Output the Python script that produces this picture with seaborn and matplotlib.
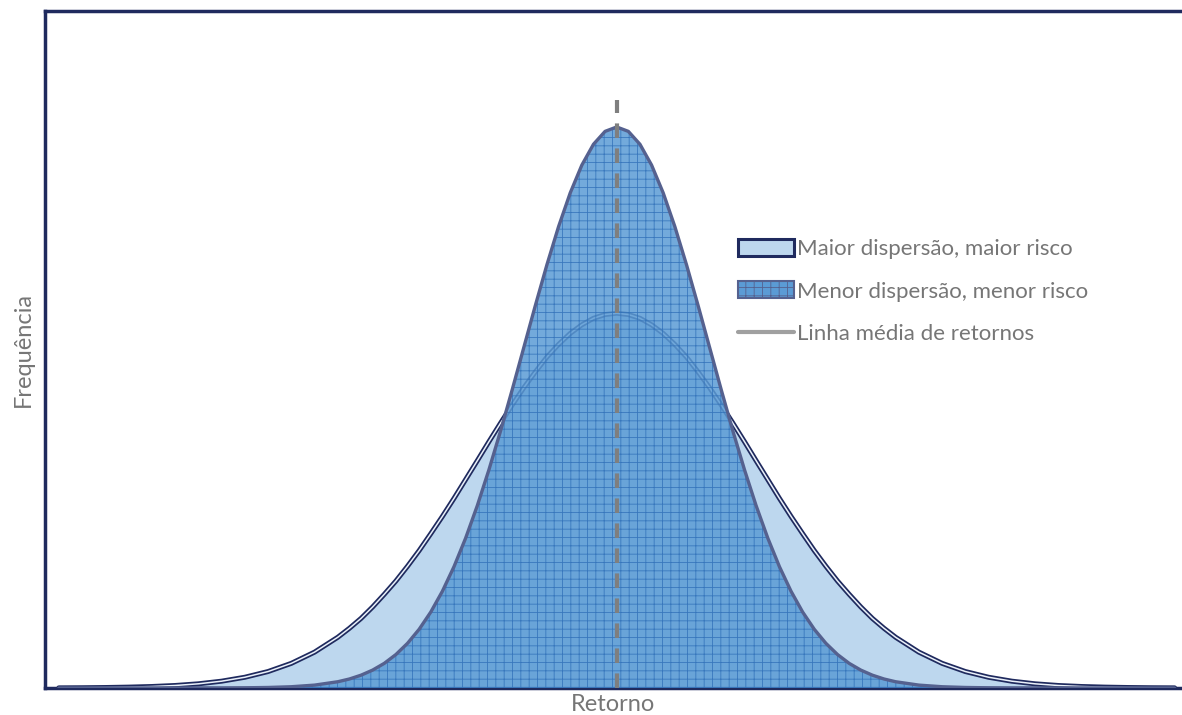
# Curvas de retorno: maior vs menor dispersão

import matplotlib
matplotlib.use("Agg")
import matplotlib.pyplot as plt
import seaborn as sns
import pandas as pd
from matplotlib.patches import Patch
from matplotlib.lines import Line2D

# Dados (frequência relativa, pico estreito = 1)
retorno = [-6.0, -5.75, -5.5, -5.25, -5.0, -4.75, -4.5, -4.25, -4.0, -3.75, -3.5, -3.25,
           -3.0, -2.875, -2.75, -2.625, -2.5, -2.375, -2.25, -2.125, -2.0, -1.875, -1.75, -1.625,
           -1.5, -1.375, -1.25, -1.125, -1.0, -0.875, -0.75, -0.625, -0.5, -0.375, -0.25, -0.125,
           0.0, 0.125, 0.25, 0.375, 0.5, 0.625, 0.75, 0.875, 1.0, 1.125, 1.25, 1.375,
           1.5, 1.625, 1.75, 1.875, 2.0, 2.125, 2.25, 2.375, 2.5, 2.625, 2.75, 2.875,
           3.0, 3.25, 3.5, 3.75, 4.0, 4.25, 4.5, 4.75, 5.0, 5.25, 5.5, 5.75, 6.0]

maior_risco = [0.0002, 0.0004, 0.0008, 0.0015, 0.0026, 0.0044, 0.0074, 0.0121, 0.0191, 0.0293, 0.0439, 0.0639,
               0.0904, 0.1064, 0.124, 0.1445, 0.167, 0.1907, 0.217, 0.2449, 0.275, 0.3058, 0.338, 0.3715,
               0.405, 0.4389, 0.472, 0.5042, 0.535, 0.5635, 0.590, 0.6125, 0.632, 0.6474, 0.659, 0.6657,
               0.668, 0.6657, 0.659, 0.6474, 0.632, 0.6125, 0.590, 0.5635, 0.535, 0.5042, 0.472, 0.4389,
               0.405, 0.3715, 0.338, 0.3058, 0.275, 0.2449, 0.217, 0.1907, 0.167, 0.1445, 0.124, 0.1064,
               0.0904, 0.0639, 0.0439, 0.0293, 0.0191, 0.0121, 0.0074, 0.0044, 0.0026, 0.0015, 0.0008, 0.0004, 0.0002]

menor_risco = [0.0, 0.0, 0.0, 0.0, 0.0, 0.0, 0.0, 0.0, 0.0003, 0.0009, 0.0022, 0.0051,
               0.0111, 0.0160, 0.0228, 0.0319, 0.0439, 0.0596, 0.0796, 0.1046, 0.1353, 0.1724, 0.2163, 0.2671,
               0.3247, 0.3886, 0.4578, 0.5311, 0.6065, 0.6819, 0.7548, 0.8226, 0.8825, 0.9321, 0.9692, 0.9922,
               1.0, 0.9922, 0.9692, 0.9321, 0.8825, 0.8226, 0.7548, 0.6819, 0.6065, 0.5311, 0.4578, 0.3886,
               0.3247, 0.2671, 0.2163, 0.1724, 0.1353, 0.1046, 0.0796, 0.0596, 0.0439, 0.0319, 0.0228, 0.0160,
               0.0111, 0.0051, 0.0022, 0.0009, 0.0003, 0.0, 0.0, 0.0, 0.0, 0.0, 0.0, 0.0, 0.0]

media = 0.0
topo_media = 1.048

df = pd.DataFrame({"retorno": retorno, "maior": maior_risco, "menor": menor_risco})

navy = "#1F2A5E"
light = "#BDD7EE"
blue = "#5B9BD5"
gray = "#7F7F7F"
txt = "#767676"

sns.set_style("white")
plt.rcParams["font.family"] = ["Lato", "DejaVu Sans"]
plt.rcParams["hatch.linewidth"] = 0.6

fig = plt.figure(figsize=(11.82, 7.15), dpi=100)
ax = fig.add_axes([0.038, 0.0378, 0.962, 0.947])

# curva larga
ax.fill_between(df["retorno"], df["maior"], color=light, lw=0, zorder=1)
sns.lineplot(data=df, x="retorno", y="maior", color=navy, lw=3.6, ax=ax, zorder=2)
sns.lineplot(data=df, x="retorno", y="maior", color="#EAF1FA", lw=1.1, ax=ax, zorder=2)

# curva estreita
ax.fill_between(df["retorno"], df["menor"], facecolor=blue, edgecolor="#3070B8",
                hatch="++", lw=0, alpha=0.85, zorder=3)
sns.lineplot(data=df, x="retorno", y="menor", color="#55618F", lw=2.4, ax=ax, zorder=4)

# linha média
ax.plot([media, media], [0, topo_media], color=gray, lw=3, ls=(0, (3.5, 2.5)), zorder=5)

ax.set_xlim(-6.15, 6.08)
ax.set_ylim(0, 1.207)
ax.set_xticks([])
ax.set_yticks([])
ax.set_xlabel("Retorno", fontsize=17, color=txt, labelpad=4)
ax.set_ylabel("Frequência", fontsize=17, color=txt, labelpad=8)

for s in ["left", "top", "bottom"]:
    ax.spines[s].set_color(navy)
    ax.spines[s].set_linewidth(2.5)
ax.spines["right"].set_visible(False)

handles = [
    Patch(facecolor=light, edgecolor=navy, lw=2.2),
    Patch(facecolor=blue, edgecolor="#55618F", hatch="++", lw=1.5),
    Line2D([0], [0], color="#A0A0A0", lw=3),
]
labels = ["Maior dispersão, maior risco", "Menor dispersão, menor risco",
          "Linha média de retornos"]
ax.legend(handles, labels, loc="center left", bbox_to_anchor=(0.6095, 0.5857),
          frameon=False, fontsize=16, labelcolor=txt, handlelength=2.5,
          handleheight=0.8, handletextpad=0.15, labelspacing=1.0,
          borderpad=0, borderaxespad=0)

plt.savefig("out.png", dpi=100)
